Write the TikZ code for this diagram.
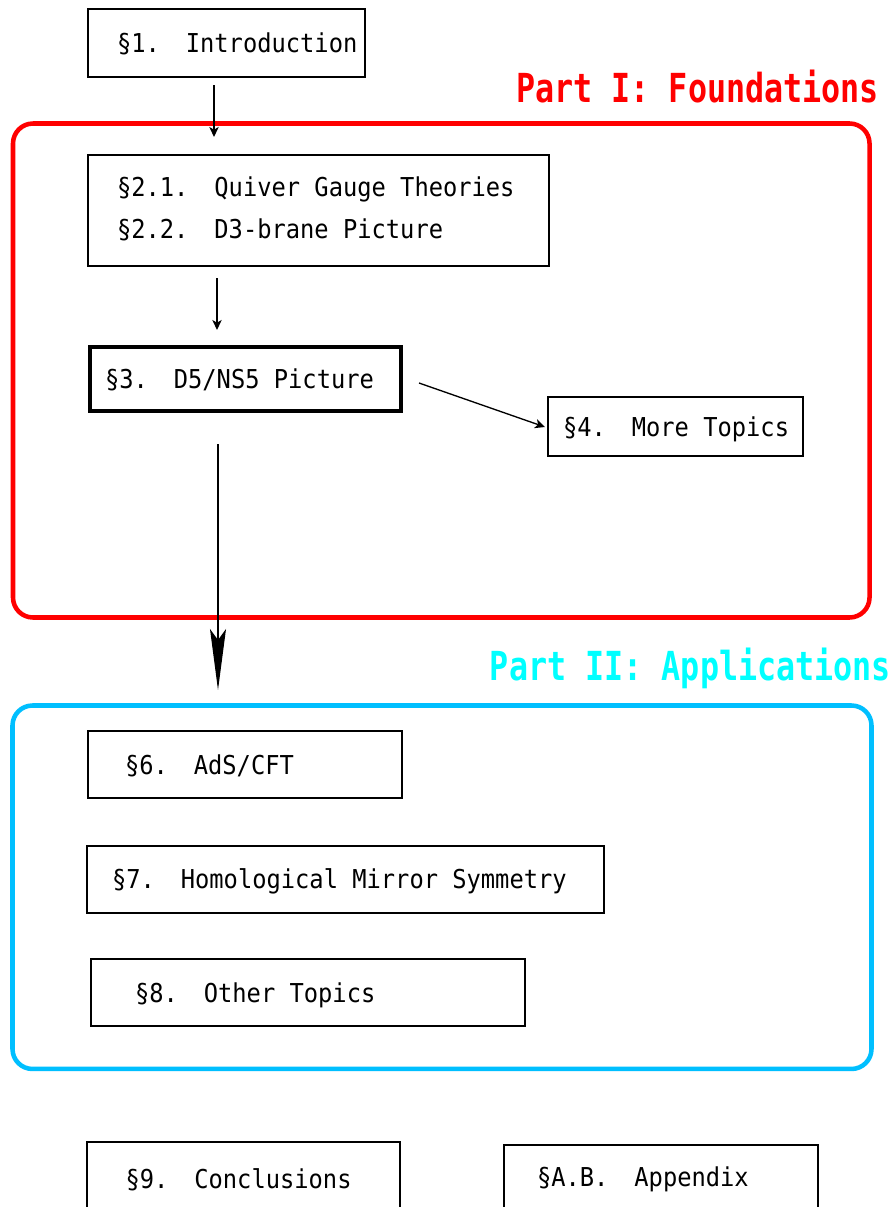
\documentclass[tikz,border=0pt]{standalone}
\usepackage{fontspec}
\usetikzlibrary{arrows.meta}
\newfontfamily\boxfont[FakeStretch=0.913]{DejaVu Sans Mono}
\newfontfamily\titlefont[FakeStretch=0.793]{DejaVu Sans Mono}
\definecolor{frameblue}{RGB}{0,191,255}
\definecolor{titlecyan}{RGB}{0,255,255}
\newcommand\secgap{\hspace{19.5pt}}
\begin{document}
\begin{tikzpicture}[x=0.75pt,y=-0.75pt,
  box/.style={draw, line width=1pt, inner sep=0pt, outer sep=0pt, anchor=north west, rectangle},
  lbl/.style={inner sep=0pt, outer sep=0pt, anchor=base west, font=\boxfont\fontsize{19.5}{24}\selectfont},
  ptitle/.style={inner sep=0pt, outer sep=0pt, anchor=base east, font=\titlefont\bfseries\fontsize{30}{36}\selectfont},
  frame/.style={draw, line width=3.4pt, rounded corners=15pt, inner sep=0pt, outer sep=0pt, anchor=north west, rectangle},
  arr/.style={line width=1pt, -{Stealth[length=7.5pt,width=7pt,inset=2pt]}},
  bigarr/.style={line width=1pt, -{Stealth[length=45.75pt,width=12pt,inset=8.25pt]}}
]
\fill[white] (0,0) rectangle (895,1207);
\useasboundingbox (0,0) rectangle (895,1207);

% frames
\node[frame, draw=red, minimum width=642.4pt, minimum height=370.5pt] (part1) at (13,123.5) {};
\node[frame, draw=frameblue, minimum width=644.25pt, minimum height=272.6pt] (part2) at (12.5,705.5) {};
\node[ptitle, text=red] (title1) at (879,102) {Part I: Foundations};
\node[ptitle, text=titlecyan] (title2) at (891,680.5) {Part II: Applications};

% boxes
\node[box, minimum width=207.75pt, minimum height=51pt] (b1) at (88,9) {};
\node[box, minimum width=345.75pt, minimum height=83.25pt] (b2) at (88,155) {};
\node[box, line width=3pt, minimum width=233.25pt, minimum height=48pt] (b3) at (90,347) {};
\node[box, minimum width=191.25pt, minimum height=44.25pt] (b4) at (548,397) {};
\node[box, minimum width=235.5pt, minimum height=50.25pt] (b6) at (88,731) {};
\node[box, minimum width=387.75pt, minimum height=50.25pt] (b7) at (87,846) {};
\node[box, minimum width=325.5pt, minimum height=50.25pt] (b8) at (91,959) {};
\node[box, minimum width=234.75pt, minimum height=52.5pt] (b9) at (87,1142) {};
\node[box, minimum width=235.5pt, minimum height=48.75pt] (bA) at (504,1145) {};

% texts
\node[lbl] (t1) at (117,52) {§1.\secgap Introduction};
\node[lbl] (t2a) at (117,196) {§2.1.\secgap Quiver Gauge Theories};
\node[lbl] (t2b) at (117,238) {§2.2.\secgap D3-brane Picture};
\node[lbl] (t3) at (105,388.5) {§3.\secgap D5/NS5 Picture};
\node[lbl] (t4) at (563,436) {§4.\secgap More Topics};
\node[lbl] (t6) at (125,774) {§6.\secgap AdS/CFT};
\node[lbl] (t7) at (112,888.5) {§7.\secgap Homological Mirror Symmetry};
\node[lbl] (t8) at (135,1002) {§8.\secgap Other Topics};
\node[lbl] (t9) at (125.5,1188) {§9.\secgap Conclusions};
\node[lbl] (tA) at (537,1186.5) {§A.B.\secgap Appendix};

% connectors
\draw[arr] ([shift={(126,8)}]b1.south west) -- ([shift={(126,-18)}]b2.north west);
\draw[arr] ([shift={(129,12)}]b2.south west) -- ([shift={(127,-17)}]b3.north west);
\draw[arr] ([shift={(18,4)}]b3.east) -- ([shift={(-3,0.5)}]b4.west);
\draw[bigarr] ([shift={(128,33)}]b3.south west) -- ([shift={(130,-41)}]b6.north west);
\end{tikzpicture}
\end{document}
